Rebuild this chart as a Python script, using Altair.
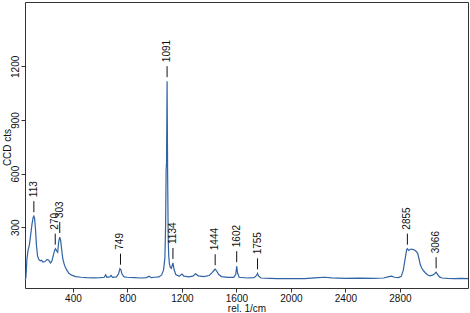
import altair as alt
import pandas as pd

# Raman spectrum (rel. 1/cm vs CCD counts)
wavenumber = [50, 55, 62, 70, 80, 90, 100, 108, 113, 118, 125, 132, 140, 150, 160, 170, 180, 195,
              210, 222, 235, 245, 255, 265, 272, 280, 288, 295, 303, 310, 318, 325, 335, 345, 355,
              370, 390, 420, 460, 500, 550, 600, 630, 640, 648, 670, 680, 690, 720, 735, 745, 752,
              760, 775, 800, 850, 900, 940, 960, 975, 1000, 1030, 1050, 1065, 1075, 1080, 1084,
              1087, 1091, 1095, 1099, 1103, 1108, 1115, 1122, 1134, 1142, 1155, 1180, 1200, 1215,
              1250, 1280, 1300, 1320, 1360, 1400, 1420, 1435, 1444, 1455, 1470, 1490, 1540, 1580,
              1595, 1602, 1608, 1620, 1680, 1730, 1748, 1755, 1762, 1780, 1850, 1900, 2000, 2100,
              2200, 2250, 2300, 2400, 2500, 2600, 2680, 2720, 2740, 2760, 2790, 2810, 2825, 2840,
              2850, 2855, 2865, 2880, 2900, 2915, 2930, 2940, 2950, 2960, 2975, 2990, 3005, 3020,
              3040, 3055, 3066, 3075, 3090, 3110, 3150, 3200, 3250, 3300]
counts = [5, 20, 120, 170, 200, 260, 320, 355, 362, 350, 290, 200, 140, 118, 112, 115, 105, 108,
          120, 115, 100, 110, 140, 170, 180, 168, 160, 215, 245, 225, 170, 125, 95, 75, 60,
          42, 32, 24, 20, 18, 17, 18, 20, 34, 20, 22, 30, 20, 22, 40, 68, 62,
          38, 22, 20, 18, 16, 18, 26, 18, 20, 22, 32, 60, 130, 300, 620,
          660, 1117, 600, 250, 140, 95, 75, 70, 100, 65, 35, 25, 38, 26,
          22, 26, 40, 28, 24, 30, 45, 58, 65, 55, 35, 24, 20, 20,
          35, 82, 45, 20, 16, 18, 30, 42, 28, 16, 14, 12, 12, 13,
          18, 20, 17, 14, 15, 14, 16, 24, 26, 20, 18, 25, 60, 130,
          175, 180, 170, 178, 175, 168, 155, 125, 90, 72, 55, 42, 33, 28,
          32, 40, 48, 38, 22, 16, 14, 13, 14, 13]

peak_pos = [113, 270, 303, 749, 1091, 1134, 1444, 1602, 1755, 2855, 3066]
peak_val = [362, 180, 245, 68, 1117, 100, 65, 82, 42, 180, 48]
peak_text = ["113", "270", "303", "749", "1091", "1134", "1444", "1602", "1755", "2855", "3066"]

x_ticks = [400, 800, 1200, 1600, 2000, 2400, 2800]
y_ticks = [300, 600, 900, 1200]

spec = pd.DataFrame({"wn": wavenumber, "cts": counts})
peaks = pd.DataFrame({"wn": peak_pos, "cts": peak_val, "label": peak_text})

FONT = "Liberation Sans"

xscale = alt.Scale(domain=[48, 3300], nice=False, zero=False)
yscale = alt.Scale(domain=[-40, 1560], nice=False, zero=False)

x_axis = alt.Axis(title="rel. 1/cm", values=x_ticks, format="d", grid=False, domain=False,
                  tickColor="#333", tickSize=4, labelFontSize=10, titleFontSize=10,
                  labelColor="#111", titleColor="#111", labelPadding=1, titlePadding=0,
                  titleFontWeight="normal", labelFont=FONT, titleFont=FONT)
y_axis = alt.Axis(title="CCD cts", values=y_ticks, format="d", grid=False, domain=False,
                  tickColor="#333", tickSize=4, labelFontSize=10, titleFontSize=10,
                  labelAngle=270, labelAlign="center", labelBaseline="bottom",
                  labelColor="#111", titleColor="#111", labelPadding=1,
                  titleAngle=270, titleX=-18, titleY=145, titleAlign="center",
                  titleBaseline="middle",
                  titleFontWeight="normal", labelFont=FONT, titleFont=FONT)

line = alt.Chart(spec).mark_line(color="#2f63a3", strokeWidth=1.2).encode(
    x=alt.X("wn:Q", scale=xscale, axis=x_axis),
    y=alt.Y("cts:Q", scale=yscale, axis=y_axis),
)

ticks = alt.Chart(peaks).mark_rule(color="#111", strokeWidth=1, yOffset=-4, y2Offset=-15).encode(
    x="wn:Q",
    y="cts:Q",
    y2="cts:Q",
)

labels = alt.Chart(peaks).mark_text(angle=270, align="left", baseline="middle", fontSize=10,
                                     font=FONT, color="#111", yOffset=-19).encode(
    x="wn:Q",
    y="cts:Q",
    text="label:N",
)

chart = (line + ticks + labels).properties(
    width=443, height=286,
    padding={"left": 25, "top": 2, "right": 2, "bottom": 25},
    autosize=alt.AutoSizeParams(type="none"),
    background="white",
).configure_view(stroke="#333", strokeWidth=1)

chart.save("out.html", embed_options={"renderer": "svg", "actions": False})
